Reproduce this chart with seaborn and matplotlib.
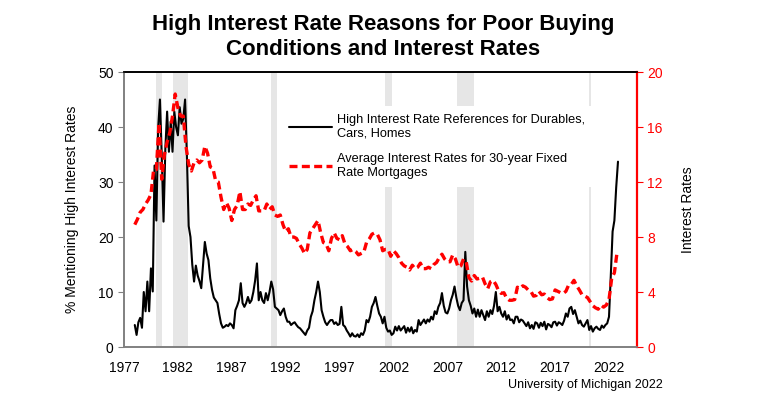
import numpy as np
import pandas as pd
import seaborn as sns
import matplotlib.pyplot as plt
from matplotlib.lines import Line2D

# Bimonthly readings (Jan, Mar, May, Jul, Sep, Nov), 1978 .. 2022
high_rate_refs = [
    4.0, 2.2, 4.5, 5.3, 3.5, 10.0,      # 1978
    6.5, 11.9, 6.5, 14.3, 10.1, 33.0,   # 1979
    23.0, 39.8, 45.0, 35.0, 22.8, 36.0, # 1980
    42.8, 35.5, 41.0, 35.5, 42.8, 40.0, # 1981
    38.5, 43.6, 40.6, 41.5, 45.0, 35.0, # 1982
    22.0, 20.0, 15.0, 11.9, 14.8, 13.0, # 1983
    12.0, 10.7, 14.8, 19.1, 17.0, 15.8, # 1984
    12.5, 10.4, 9.0, 8.5, 8.0, 6.0,     # 1985
    4.3, 3.5, 3.7, 4.0, 3.8, 4.3,       # 1986
    4.0, 3.4, 6.7, 7.5, 8.5, 11.6,      # 1987
    8.0, 7.3, 8.0, 9.1, 8.0, 8.5,       # 1988
    10.0, 12.1, 15.2, 8.5, 10.0, 8.5,   # 1989
    8.0, 9.8, 8.5, 10.0, 11.9, 10.5,    # 1990
    7.3, 7.0, 6.7, 5.8, 6.5, 7.0,       # 1991
    5.5, 4.6, 4.6, 4.0, 4.3, 4.5,       # 1992
    4.0, 3.6, 3.4, 3.0, 2.6, 2.2,       # 1993
    3.0, 3.5, 5.5, 6.5, 8.5, 10.0,      # 1994
    11.9, 10.0, 6.7, 5.5, 4.5, 4.0,     # 1995
    4.5, 4.9, 4.9, 4.2, 4.5, 4.0,       # 1996
    4.2, 7.3, 4.0, 3.7, 3.0, 2.5,       # 1997
    1.9, 2.5, 2.0, 1.9, 2.3, 1.8,       # 1998
    2.5, 2.2, 3.0, 4.9, 4.5, 5.5,       # 1999
    7.3, 8.0, 9.1, 7.5, 6.1, 5.5,       # 2000
    4.3, 5.5, 3.5, 2.8, 3.0, 2.2,       # 2001
    2.5, 3.7, 3.0, 3.8, 3.0, 3.4,       # 2002
    3.8, 2.6, 3.5, 2.8, 3.6, 2.5,       # 2003
    3.1, 2.8, 4.9, 4.0, 4.5, 5.0,       # 2004
    4.3, 5.0, 4.6, 5.5, 5.0, 6.5,       # 2005
    6.0, 7.3, 8.0, 9.8, 7.5, 6.3,       # 2006
    6.1, 7.0, 8.5, 9.5, 11.0, 9.0,      # 2007
    7.5, 6.7, 8.0, 8.5, 17.3, 11.0,     # 2008
    8.5, 7.5, 6.1, 7.0, 5.5, 6.8,       # 2009
    5.5, 6.7, 5.8, 4.9, 6.5, 5.5,       # 2010
    6.7, 6.0, 7.5, 10.0, 6.5, 7.3,      # 2011
    6.1, 5.5, 6.5, 5.0, 5.8, 4.9,       # 2012
    5.0, 4.3, 5.5, 5.5, 4.5, 5.0,       # 2013
    4.8, 4.3, 3.8, 4.5, 3.4, 4.0,       # 2014
    3.3, 4.5, 4.3, 3.5, 4.4, 3.8,       # 2015
    4.6, 3.2, 4.2, 4.0, 3.6, 4.5,       # 2016
    4.6, 3.9, 4.5, 4.3, 4.0, 4.8,       # 2017
    6.1, 5.5, 7.0, 7.3, 6.0, 6.7,       # 2018
    5.5, 4.3, 4.8, 4.0, 3.7, 4.3,       # 2019
    4.9, 3.1, 3.8, 2.8, 3.4, 3.7,       # 2020
    3.3, 3.1, 3.9, 3.5, 4.0, 4.3,       # 2021
    5.5, 13.0, 21.0, 23.0, 29.0, 33.7,  # 2022
]

# Quarterly readings (Jan, Apr, Jul, Oct), 1978 .. 2022
mortgage_rates = [
    8.9, 9.3, 9.8, 10.0,       # 1978
    10.4, 10.7, 11.1, 12.9,    # 1979
    12.9, 16.3, 12.2, 14.0,    # 1980
    14.9, 15.6, 16.8, 18.4,    # 1981
    17.4, 16.8, 16.8, 14.6,    # 1982
    13.3, 12.8, 13.4, 13.6,    # 1983
    13.4, 13.6, 14.6, 14.1,    # 1984
    13.1, 13.0, 12.1, 12.0,    # 1985
    10.9, 10.0, 10.5, 10.1,    # 1986
    9.2, 10.0, 10.3, 11.3,     # 1987
    10.0, 10.0, 10.4, 10.3,    # 1988
    10.7, 11.0, 9.9, 9.9,      # 1989
    9.9, 10.4, 10.0, 10.2,     # 1990
    9.6, 9.5, 9.6, 8.9,        # 1991
    8.4, 8.6, 8.0, 8.0,        # 1992
    7.9, 7.5, 7.2, 6.8,        # 1993
    7.1, 8.3, 8.6, 8.9,        # 1994
    9.2, 8.3, 7.6, 7.5,        # 1995
    7.0, 7.9, 8.3, 7.9,        # 1996
    7.8, 8.1, 7.5, 7.3,        # 1997
    7.0, 7.1, 6.95, 6.7,       # 1998
    6.8, 6.9, 7.6, 7.85,       # 1999
    8.2, 8.3, 8.2, 7.8,        # 2000
    7.0, 7.1, 7.1, 6.6,        # 2001
    7.0, 6.8, 6.5, 6.1,        # 2002
    5.9, 5.8, 5.6, 5.95,       # 2003
    5.7, 5.8, 6.1, 5.7,        # 2004
    5.7, 5.8, 5.7, 6.0,        # 2005
    6.15, 6.5, 6.75, 6.4,      # 2006
    6.2, 6.2, 6.7, 6.4,        # 2007
    5.8, 5.9, 6.4, 6.2,        # 2008
    5.05, 4.8, 5.2, 4.95,      # 2009
    5.0, 5.1, 4.6, 4.25,       # 2010
    4.75, 4.85, 4.55, 4.1,     # 2011
    3.9, 3.95, 3.55, 3.4,      # 2012
    3.4, 3.45, 4.35, 4.25,     # 2013
    4.45, 4.35, 4.15, 4.05,    # 2014
    3.7, 3.75, 4.05, 3.8,      # 2015
    3.85, 3.6, 3.45, 3.5,      # 2016
    4.15, 4.05, 3.95, 3.9,     # 2017
    4.05, 4.5, 4.55, 4.85,     # 2018
    4.45, 4.15, 3.8, 3.7,      # 2019
    3.6, 3.3, 3.0, 2.85,       # 2020
    2.75, 3.05, 2.9, 3.05,     # 2021
    3.45, 5.0, 5.4, 6.9,       # 2022
]

recessions = [(1980.0, 1980.5), (1981.5, 1982.9), (1990.6, 1991.2),
              (2001.2, 2001.9), (2007.9, 2009.5), (2020.1, 2020.3)]
year_ticks = [1977, 1982, 1987, 1992, 1997, 2002, 2007, 2012, 2017, 2022]

d1 = pd.date_range('1978-01-01', periods=len(high_rate_refs), freq='2MS')
refs_df = pd.DataFrame({'year': d1.year + (d1.month - 1) / 12, 'refs': high_rate_refs})
d2 = pd.date_range('1978-01-01', periods=len(mortgage_rates), freq='QS')
rates_df = pd.DataFrame({'year': d2.year + (d2.month - 1) / 12, 'rates': mortgage_rates})

sns.set_style("white")
plt.rcParams['font.family'] = ['Liberation Sans', 'DejaVu Sans']
plt.rcParams['text.color'] = 'black'
plt.rcParams['axes.labelcolor'] = 'black'
plt.rcParams['xtick.color'] = 'black'
plt.rcParams['ytick.color'] = 'black'

fig = plt.figure(figsize=(7.58, 3.99), dpi=100)
ax = fig.add_axes([0.1636, 0.1303, 0.6768, 0.6892])
ax2 = ax.twinx()

# recession bands
for start, end in recessions:
    ax.axvspan(start, end, color='#e6e6e6', lw=0, zorder=0)

sns.lineplot(data=refs_df, x='year', y='refs', ax=ax, color='black', lw=1.5, zorder=3)
sns.lineplot(data=rates_df, x='year', y='rates', ax=ax2, color='red', lw=2.4,
             dashes=False, zorder=3)
ax2.lines[0].set_dashes([2.4, 1.3])

ax.set_xlim(1977, 2024.6)
ax.set_ylim(0, 50)
ax2.set_ylim(0, 20)
ax.set_xticks(year_ticks)
ax.set_xticklabels([str(y) for y in year_ticks])
ax.set_yticks(range(0, 51, 10))
ax2.set_yticks(range(0, 21, 4))

ax.set_xlabel('')
ax.set_ylabel('% Mentioning High Interest Rates', fontsize=10, labelpad=14)
ax2.set_ylabel('Interest Rates', fontsize=10, color='black', labelpad=13)

ax.tick_params(axis='x', direction='in', length=4, color='#808080', labelsize=10, pad=10)
ax.tick_params(axis='y', direction='out', length=4, color='#808080', labelsize=10, left=True)
ax2.tick_params(axis='y', direction='out', length=4, color='red', labelcolor='red',
                labelsize=10, right=True)

for a in (ax, ax2):
    a.spines['left'].set_color('#808080')
    a.spines['bottom'].set_color('#808080')
    a.spines['top'].set_color('black')
    a.spines['right'].set_color('red')
    for s in a.spines.values():
        s.set_linewidth(1.2)
ax2.spines['right'].set_linewidth(1.6)

handles = [Line2D([], [], color='black', lw=1.5),
           Line2D([], [], color='red', lw=2.4, dashes=[2.4, 1.3])]
labels = ['High Interest Rate References for Durables,\nCars, Homes',
          'Average Interest Rates for 30-year Fixed\nRate Mortgages']
leg = ax2.legend(handles, labels, loc='upper left', bbox_to_anchor=(0.295, 0.9),
                 frameon=True, fontsize=9.2, handlelength=3.3, handletextpad=0.4,
                 labelspacing=1.1, borderpad=0.6, fancybox=False)
leg.get_frame().set_facecolor('white')
leg.get_frame().set_edgecolor('none')
leg.get_frame().set_alpha(1)

fig.text(0.505, 0.965, 'High Interest Rate Reasons for Poor Buying\nConditions and Interest Rates',
         ha='center', va='top', fontsize=16, fontweight='bold', linespacing=1.25)
fig.text(0.875, 0.035, 'University of Michigan 2022', ha='right', va='center', fontsize=9)

fig.savefig('out.png', dpi=100)
